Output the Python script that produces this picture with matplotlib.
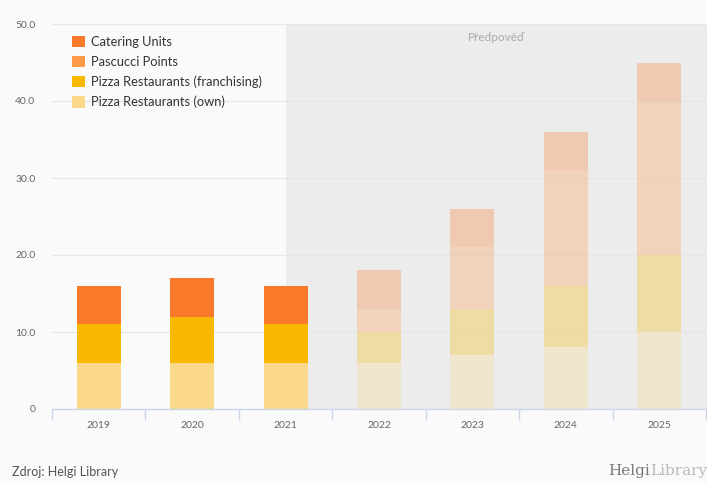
import matplotlib
matplotlib.use("Agg")
import matplotlib.pyplot as plt
from matplotlib.patches import Patch, Rectangle
import numpy as np

plt.rcParams['font.family'] = ['Lato', 'DejaVu Sans']

years = ["2019", "2020", "2021", "2022", "2023", "2024", "2025"]
own = [6, 6, 6, 6, 7, 8, 10]
franchising = [5, 6, 5, 4, 6, 8, 10]
pascucci = [0, 0, 0, 3, 8, 15, 20]
catering = [5, 5, 5, 5, 5, 5, 5]
forecast_from = 3  # index of first forecast year

series = [
    ("Pizza Restaurants (own)", own, "#fad98a"),
    ("Pizza Restaurants (franchising)", franchising, "#f9b800"),
    ("Pascucci Points", pascucci, "#fd9b4b"),
    ("Catering Units", catering, "#f97a2a"),
]

W, H = 707, 483
fig = plt.figure(figsize=(W / 100, H / 100), dpi=100, facecolor="#fafafa")
left, right, bottom, top = 52, 706, 409, 24
ax = fig.add_axes([left / W, 1 - bottom / H, (right - left) / W, (bottom - top) / H])
ax.set_facecolor("#fafafa")
ax.set_xlim(-0.5, 6.5)
ax.set_ylim(0, 50)

# forecast band
ax.add_patch(Rectangle((2, 0), 4.6, 50, facecolor="#ececec", edgecolor="none",
                       zorder=0, clip_on=False))

# gridlines
for v in [10, 20, 30, 40, 50]:
    ax.axhline(v, color="#e6e6e6", lw=0.8, zorder=1)

x = np.arange(len(years))
base = np.zeros(len(years))
for name, vals, col in series:
    vals = np.array(vals, dtype=float)
    for i in range(len(years)):
        if vals[i] == 0:
            continue
        a = 1.0 if i < forecast_from else 0.3
        ax.bar(x[i], vals[i], bottom=base[i], width=0.47, color=col, alpha=a,
               edgecolor="none", zorder=2)
    base += vals

for s in ["top", "right", "left"]:
    ax.spines[s].set_visible(False)
ax.spines["bottom"].set_color("#ccd6eb")
ax.spines["bottom"].set_linewidth(1)

ax.set_xticks(x)
ax.set_xticklabels(years)
ax.set_xticks(np.arange(-0.5, 7.0, 1), minor=True)
ax.tick_params(axis="x", which="major", length=0, labelsize=7.5, labelcolor="#666666", pad=9)
ax.tick_params(axis="x", which="minor", length=8, color="#ccd6eb", width=1)
ax.set_yticks([0, 10, 20, 30, 40, 50])
ax.set_yticklabels(["0", "10.0", "20.0", "30.0", "40.0", "50.0"])
ax.tick_params(axis="y", length=0, labelsize=7.5, labelcolor="#666666", pad=12)

ax.text(4.25, 48.3, "Předpověď", ha="center", va="center", fontsize=8.5, color="#aaaaaa", zorder=3)

handles = [Patch(facecolor=c, edgecolor="none", label=n) for n, v, c in series[::-1]]
fig.legend(handles=handles, loc="upper left", bbox_to_anchor=(60 / W, 1 - 24 / H),
           frameon=False, fontsize=9.3, handlelength=1.0, handleheight=1.0,
           handletextpad=0.5, labelspacing=0.6, labelcolor="#333333")

fig.text(12 / W, 1 - 472 / H, "Zdroj: Helgi Library", fontsize=9, color="#555555", va="center")
fig.text(650 / W, 1 - 471 / H, "Helgi", fontsize=11, color="#777777", va="center",
         ha="right", family=["DejaVu Serif"])
fig.text(650 / W, 1 - 471 / H, "Library", fontsize=11, color="#bbbbbb", va="center",
         ha="left", family=["DejaVu Serif"])

fig.savefig("out.png", dpi=100, facecolor=fig.get_facecolor())
